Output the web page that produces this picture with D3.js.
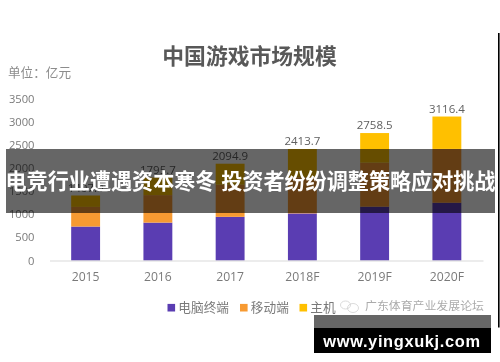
<!DOCTYPE html>
<html lang="zh">
<head>
<meta charset="utf-8">
<script src="https://cdnjs.cloudflare.com/ajax/libs/d3/7.8.5/d3.min.js"></script>
<style>
html,body{margin:0;padding:0;background:#fff;overflow:hidden}
svg{display:block}
text{font-family:"Open Sans","Noto Sans CJK SC",sans-serif}
.cjk{font-family:"Noto Sans CJK SC",sans-serif}
</style>
</head>
<body>
<svg id="chart" width="500" height="362"></svg>
<script>
const years = ["2015","2016","2017","2018F","2019F","2020F"];
const seriesNames = ["电脑终端","移动端","主机"];
const seriesColors = ["#5a3db2","#f79a32","#ffc000"];
const pcValues = [735,820,945,1020,1165,1250];
const mobileValues = [425,595,695,780,952,1165];
const consoleValues = [247,380.7,454.9,613.7,641.5,701.4];
const totals = [1407.0,1795.7,2094.9,2413.7,2758.5,3116.4];
const yTicks = [0,500,1000,1500,2000,2500,3000,3500];
const titleText = "中国游戏市场规模";
const unitText = "单位：亿元";
const forumText = "广东体育产业发展论坛";
const headline = "电竞行业遭遇资本寒冬 投资者纷纷调整策略应对挑战";
const siteText = "www.yingxukj.com";

const svg = d3.select("#chart");
const defs = svg.append("defs");
defs.append("filter").attr("id","soft").attr("x","-5%").attr("y","-5%").attr("width","110%").attr("height","110%")
  .append("feGaussianBlur").attr("stdDeviation",0.35);

const chart = svg.append("g").attr("filter","url(#soft)");

const x = d3.scaleBand().domain(years).range([49.5,483]).paddingInner(0.6).paddingOuter(0.3);
const y = d3.scaleLinear().domain([0,3500]).range([260.5,98.8]);

const rows = years.map((yr,i)=>({year:yr,pc:pcValues[i],mobile:mobileValues[i],console:consoleValues[i],total:totals[i]}));
const stack = d3.stack().keys(["pc","mobile","console"])(rows);

chart.append("text").attr("class","cjk").attr("x",249.5).attr("y",56).attr("dy","0.36em")
  .attr("text-anchor","middle").attr("font-size",21.8).attr("font-weight",700).attr("fill","#595959").text(titleText);
chart.append("text").attr("class","cjk").attr("x",8).attr("y",72.6).attr("dy","0.36em")
  .attr("font-size",12.6).attr("fill","#8c8c8c").text(unitText);

const yAxis = chart.append("g").attr("transform","translate(34.5,0)")
  .call(d3.axisLeft(y).tickValues(yTicks).tickSize(0).tickPadding(0).tickFormat(d3.format("d")));
yAxis.select(".domain").remove();
yAxis.selectAll("text").attr("font-size",11.2).attr("fill","#7a7a7a").style("font-family",'"Open Sans",sans-serif');

chart.selectAll("g.series").data(stack).join("g").attr("class","series")
  .attr("fill",(d,i)=>seriesColors[i])
  .selectAll("rect").data(d=>d).join("rect")
  .attr("x",d=>x(d.data.year)).attr("width",x.bandwidth())
  .attr("y",d=>y(d[1])).attr("height",d=>y(d[0])-y(d[1]));

const xAxis = chart.append("g").attr("transform","translate(0,260.5)")
  .call(d3.axisBottom(x).tickSize(0).tickPadding(12));
xAxis.select(".domain").attr("stroke","#d9d9d9").attr("stroke-width",1.2);
xAxis.selectAll("text").attr("font-size",12.2).attr("fill","#7a7a7a").style("font-family",'"Open Sans",sans-serif');

chart.selectAll("text.total").data(rows).join("text").attr("class","total")
  .attr("x",d=>x(d.year)+x.bandwidth()/2).attr("y",d=>y(d.total)-7.7).attr("dy","0.36em")
  .attr("text-anchor","middle").attr("font-size",11.5).attr("fill","#606060")
  .text(d=>d3.format(".1f")(d.total));

const legendX = [167.5,240,299.5];
const legend = chart.selectAll("g.legend").data(seriesNames).join("g").attr("class","legend")
  .attr("transform",(d,i)=>`translate(${legendX[i]},307.7)`);
legend.append("rect").attr("x",0).attr("y",-3.8).attr("width",7.6).attr("height",7.6)
  .attr("fill",(d,i)=>seriesColors[i]);
legend.append("text").attr("class","cjk").attr("x",10.8).attr("dy","0.36em")
  .attr("font-size",12.7).attr("fill","#7a7a7a").text(d=>d);

const icon = chart.append("g").attr("fill","none").attr("stroke","#d2d2d2").attr("stroke-width",0.8);
icon.append("ellipse").attr("cx",345.5).attr("cy",305).attr("rx",5).attr("ry",4);
icon.append("ellipse").attr("cx",353).attr("cy",308).attr("rx",5.5).attr("ry",4.5);
chart.append("text").attr("class","cjk").attr("x",365).attr("y",306).attr("dy","0.36em")
  .attr("font-size",11.9).attr("fill","#ababab").text(forumText);

svg.append("rect").attr("x",6).attr("y",149).attr("width",489).attr("height",64).attr("fill","#000").attr("fill-opacity",0.6);
svg.append("text").attr("class","cjk").attr("x",250.5).attr("y",181).attr("dy","0.36em")
  .attr("text-anchor","middle").attr("font-size",21.1).attr("font-weight",700).attr("fill","#fff").text(headline);

svg.append("rect").attr("x",498).attr("y",33).attr("width",1.6).attr("height",294.5).attr("fill","#000");
svg.append("rect").attr("x",314).attr("y",315).attr("width",177).attr("height",13).attr("fill","#666");
svg.append("rect").attr("x",314).attr("y",328).attr("width",177).attr("height",25).attr("fill","#000");
svg.append("text").attr("x",402).attr("y",341).attr("dy","0.36em").attr("text-anchor","middle")
  .style("font-family",'"Liberation Sans",sans-serif').attr("font-size",16.4).attr("font-weight",700)
  .attr("letter-spacing",0.65).attr("fill","#fff").text(siteText);
</script>
</body>
</html>
